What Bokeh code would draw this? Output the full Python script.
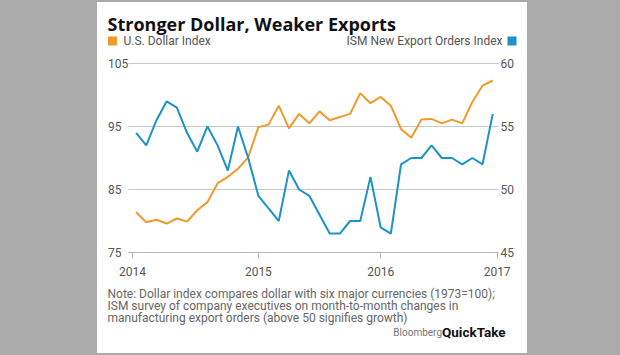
from bokeh.plotting import figure
from bokeh.models import Range1d, LinearAxis, FixedTicker, Column
from bokeh.core.properties import value
from bokeh.embed import file_html
from bokeh.resources import INLINE

# ---------------- data ----------------
months = [f"{y}-{m:02d}" for y in (2014, 2015, 2016) for m in range(1, 13)]
usd_index = [81.4, 79.8, 80.2, 79.6, 80.4, 79.9, 81.7, 83.0, 86.0, 87.0, 88.3, 90.1,
             94.9, 95.3, 98.3, 94.7, 97.0, 95.5, 97.4, 96.0, 96.5, 97.0, 100.3, 98.7,
             99.7, 98.3, 94.6, 93.2, 96.1, 96.2, 95.5, 96.1, 95.5, 98.9, 101.5, 102.3]
ism_export = [54.5, 53.5, 55.5, 57.0, 56.5, 54.5, 53.0, 55.0, 53.5, 51.5, 55.0, 52.5,
              49.5, 48.5, 47.5, 51.5, 50.0, 49.5, 48.0, 46.5, 46.5, 47.5, 47.5, 51.0,
              47.0, 46.5, 52.0, 52.5, 52.5, 53.5, 52.5, 52.5, 52.0, 52.5, 52.0, 56.0]
year_labels = ["2014", "2015", "2016", "2017"]
year_tick_pos = [-0.35, 12, 24, 35.43]
left_ticks = [75, 85, 95, 105]
right_ticks = [45, 50, 55, 60]

title_text = "Stronger Dollar, Weaker Exports"
legend_left = "U.S. Dollar Index"
legend_right = "ISM New Export Orders Index"
notes = ["Note: Dollar index compares dollar with six major currencies (1973=100);",
         "ISM survey of company executives on month-to-month changes in",
         "manufacturing export orders (above 50 signifies growth)"]
brand_a = "Bloomberg"
brand_b = "QuickTake"

# ---------------- style / layout ----------------
ORANGE = "#f09a2a"
BLUE = "#1b93c8"
FONT = "Roboto"
TXT = "#555555"
W = 430
X_LO, X_HI = -0.746, 35.565      # extent of the gridlines (month index)
LBL_L, LBL_R = -2.757, 35.76     # y tick label anchors (month index)


def blank(h):
    f = figure(width=W, height=h, output_backend="svg", toolbar_location=None,
               x_range=Range1d(0, W), y_range=Range1d(h, 0),
               x_axis_location=None, y_axis_location=None, min_border=0)
    f.xgrid.grid_line_color = None
    f.ygrid.grid_line_color = None
    f.outline_line_color = None
    f.background_fill_color = "white"
    f.border_fill_color = "white"
    return f


# ---------------- header ----------------
hdr = blank(50)
hdr.text(x=[10], y=[21], text=[title_text], text_font=value("Open Sans"),
         text_font_size="18px", text_font_style="bold", text_color="#111111",
         text_baseline="alphabetic", text_align="left")
hdr.scatter(x=[15, 414.5], y=[38.5, 38.5], marker="square", size=9,
            fill_color=[ORANGE, BLUE], line_color=None)
hdr.text(x=[26], y=[38.5], text=[legend_left], text_font=value(FONT),
         text_font_size="12px", text_color=TXT, text_baseline="middle",
         text_align="left")
hdr.text(x=[405], y=[38.5], text=[legend_right], text_font=value(FONT),
         text_font_size="12px", text_color=TXT, text_baseline="middle",
         text_align="right")

# ---------------- main chart ----------------
x = list(range(len(months)))
p = figure(width=W, height=228, output_backend="svg", toolbar_location=None,
           x_range=Range1d(-3.788, 38.41), y_range=Range1d(73.413, 106.746),
           min_border_left=0, min_border_right=0, min_border_top=0, min_border_bottom=18,
           x_axis_location=None, y_axis_location=None)
p.extra_y_ranges = {"ism": Range1d(44.206, 60.873)}
p.background_fill_color = "white"
p.border_fill_color = "white"
p.outline_line_color = None
p.xgrid.grid_line_color = None
p.ygrid.grid_line_color = None

xa = LinearAxis(ticker=FixedTicker(ticks=year_tick_pos),
                major_label_overrides={t: l for t, l in zip(year_tick_pos, year_labels)})
xa.axis_line_color = None
xa.major_tick_line_color = "#b5b5b5"
xa.major_tick_in = 10
xa.major_tick_out = -4
xa.minor_tick_line_color = None
xa.major_label_standoff = 4
xa.major_label_text_font = FONT
xa.major_label_text_font_size = "12px"
xa.major_label_text_color = TXT
p.add_layout(xa, "below")

# horizontal gridlines at the left-axis ticks, baseline slightly darker
n = len(left_ticks)
p.segment(x0=[X_LO] * n, x1=[X_HI] * n, y0=left_ticks, y1=left_ticks,
          line_color=["#b5b5b5"] + ["#c8c8c8"] * (n - 1), line_width=1)

# y tick labels (left: dollar index, right: ISM)
p.text(x=[LBL_L] * n, y=left_ticks, text=[str(t) for t in left_ticks],
       text_font=value(FONT), text_font_size="12px", text_color=TXT,
       text_baseline="middle", text_align="left")
p.text(x=[LBL_R] * len(right_ticks), y=right_ticks, text=[str(t) for t in right_ticks],
       text_font=value(FONT), text_font_size="12px", text_color=TXT,
       text_baseline="middle", text_align="left", y_range_name="ism")

p.line(x, usd_index, line_color=ORANGE, line_width=2)
p.line(x, ism_export, line_color=BLUE, line_width=2, y_range_name="ism")

# ---------------- footer ----------------
ftr = blank(73)
ftr.text(x=[10, 10, 10], y=[13.3, 25.5, 37.2], text=notes, text_font=value(FONT),
         text_font_size="12px", text_color="#666666", text_baseline="middle",
         text_align="left")
ftr.text(x=[344.5], y=[51.7], text=[brand_a], text_font=value(FONT),
         text_font_size="10px", text_color="#777777", text_baseline="middle",
         text_align="right")
ftr.text(x=[344.5], y=[51.7], text=[brand_b], text_font=value(FONT),
         text_font_size="13.5px", text_font_style="bold", text_color="#111111",
         text_baseline="middle", text_align="left")

card = Column(hdr, p, ftr, width=W, height=351, spacing=0, margin=(2, 0, 0, 97),
              styles={"background-color": "white"})
layout = Column(card, width=620, height=355, spacing=0,
                styles={"background-color": "#ababab"})

open("out.html", "w").write(file_html(layout, INLINE))
